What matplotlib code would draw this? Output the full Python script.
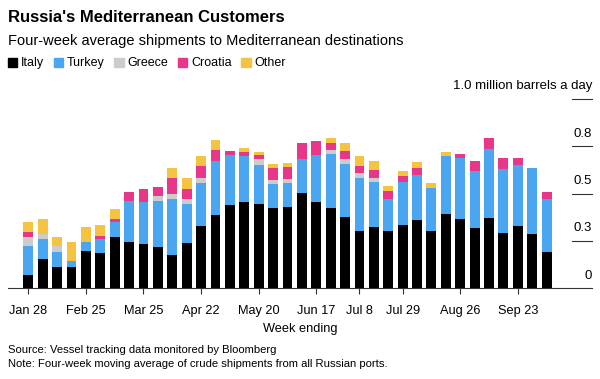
import numpy as np
import matplotlib
matplotlib.use('Agg')
from matplotlib import pyplot as plt
import matplotlib.transforms as mtransforms

plt.rcParams['font.family'] = ['Liberation Sans', 'DejaVu Sans']

# week ending dates, Jan 28 .. Oct 14 (weekly)
weeks = ['Jan 28', 'Feb 4', 'Feb 11', 'Feb 18', 'Feb 25', 'Mar 4', 'Mar 11', 'Mar 18',
         'Mar 25', 'Apr 1', 'Apr 8', 'Apr 15', 'Apr 22', 'Apr 29', 'May 6', 'May 13',
         'May 20', 'May 27', 'Jun 3', 'Jun 10', 'Jun 17', 'Jun 24', 'Jul 1', 'Jul 8',
         'Jul 15', 'Jul 22', 'Jul 29', 'Aug 5', 'Aug 12', 'Aug 19', 'Aug 26', 'Sep 2',
         'Sep 9', 'Sep 16', 'Sep 23', 'Sep 30', 'Oct 7']
tick_labels = ['Jan 28', 'Feb 25', 'Mar 25', 'Apr 22', 'May 20', 'Jun 17', 'Jul 8',
               'Jul 29', 'Aug 26', 'Sep 23']

# million barrels a day
italy = [0.070, 0.157, 0.111, 0.116, 0.198, 0.187, 0.273, 0.247, 0.236, 0.217,
         0.176, 0.242, 0.328, 0.388, 0.439, 0.459, 0.448, 0.423, 0.429, 0.504,
         0.459, 0.423, 0.379, 0.302, 0.325, 0.302, 0.337, 0.363, 0.302, 0.393,
         0.369, 0.317, 0.374, 0.293, 0.328, 0.287, 0.195]
turkey = [0.152, 0.106, 0.083, 0.027, 0.049, 0.072, 0.076, 0.217, 0.223, 0.247,
          0.297, 0.202, 0.231, 0.284, 0.265, 0.238, 0.205, 0.127, 0.127, 0.179,
          0.246, 0.286, 0.279, 0.282, 0.236, 0.172, 0.224, 0.238, 0.229, 0.304,
          0.319, 0.304, 0.363, 0.340, 0.326, 0.348, 0.278]
greece = [0.051, 0.023, 0.030, 0.000, 0.000, 0.000, 0.000, 0.000, 0.000, 0.025,
          0.026, 0.030, 0.025, 0.000, 0.000, 0.000, 0.028, 0.023, 0.022, 0.000,
          0.000, 0.021, 0.023, 0.028, 0.023, 0.000, 0.000, 0.000, 0.000, 0.000,
          0.000, 0.000, 0.000, 0.000, 0.000, 0.000, 0.000]
croatia = [0.025, 0.000, 0.000, 0.000, 0.000, 0.020, 0.020, 0.047, 0.065, 0.045,
           0.085, 0.053, 0.062, 0.058, 0.023, 0.024, 0.021, 0.062, 0.062, 0.084,
           0.073, 0.039, 0.042, 0.035, 0.042, 0.041, 0.035, 0.036, 0.000, 0.000,
           0.021, 0.054, 0.057, 0.058, 0.037, 0.000, 0.036]
other = [0.051, 0.083, 0.049, 0.104, 0.078, 0.054, 0.051, 0.000, 0.000, 0.000,
         0.051, 0.057, 0.051, 0.053, 0.000, 0.020, 0.019, 0.023, 0.023, 0.000,
         0.000, 0.023, 0.046, 0.050, 0.046, 0.025, 0.023, 0.030, 0.025, 0.024,
         0.000, 0.000, 0.000, 0.000, 0.000, 0.000, 0.000]

series = [('Italy', italy, '#000000'),
          ('Turkey', turkey, '#4aa6f0'),
          ('Greece', greece, '#cccccc'),
          ('Croatia', croatia, '#e8368b'),
          ('Other', other, '#f5c342')]

fig = plt.figure(figsize=(6.0, 3.79), dpi=100)
ax = fig.add_axes([0.0133, 0.2388, 0.9734, 0.5])

x = np.arange(len(weeks))
bottom = np.zeros(len(weeks))
for name, vals, col in series:
    vals = np.array(vals)
    ax.bar(x, vals, width=0.69, bottom=bottom, color=col, linewidth=0)
    bottom += vals

ax.set_xlim(-1.41, 39.15)
ax.set_ylim(0, 1.0)
for s in ['top', 'right', 'left']:
    ax.spines[s].set_visible(False)
ax.spines['bottom'].set_color('#333333')
ax.spines['bottom'].set_linewidth(0.8)
ax.set_yticks([])

tick_pos = [weeks.index(t) for t in tick_labels]
ax.set_xticks(tick_pos)
ax.set_xticklabels(tick_labels, fontsize=9.2)
ax.tick_params(axis='x', length=4, width=0.8, color='#333333', pad=8)
ax.set_xlabel('Week ending', fontsize=9.2, labelpad=4)

# short gridlines and labels on the right
trans = mtransforms.blended_transform_factory(ax.transAxes, ax.transData)
y_vals = [0, 0.25, 0.5, 0.75, 1.0]
y_labels = ['0', '0.3', '0.5', '0.8', '1.0 million barrels a day']
for v, lab in zip(y_vals, y_labels):
    if v > 0:
        ax.plot([0.9657, 1.0], [v, v], transform=trans, color='#333333', lw=0.8,
                clip_on=False)
    ax.text(1.0, v + 0.035, lab, transform=trans, ha='right', va='bottom',
            fontsize=9.5)

fig.text(0.0133, 0.953, "Russia's Mediterranean Customers", fontsize=12,
         fontweight='bold', va='center')
fig.text(0.0133, 0.893, 'Four-week average shipments to Mediterranean destinations',
         fontsize=10.5, va='center')

# legend
lx = 0.0133
for name, vals, col in series:
    fig.patches.append(plt.Rectangle((lx, 0.822), 0.0155, 0.024, color=col,
                                     transform=fig.transFigure, figure=fig))
    t = fig.text(lx + 0.022, 0.834, name, fontsize=9, va='center')
    fig.canvas.draw()
    bb = t.get_window_extent()
    lx = bb.x1 / 600 + 0.016

fig.text(0.0133, 0.077, 'Source: Vessel tracking data monitored by Bloomberg',
         fontsize=8.1, va='center')
fig.text(0.0133, 0.040,
         'Note: Four-week moving average of crude shipments from all Russian ports.',
         fontsize=8.1, va='center')

fig.savefig('out.png', dpi=100)
